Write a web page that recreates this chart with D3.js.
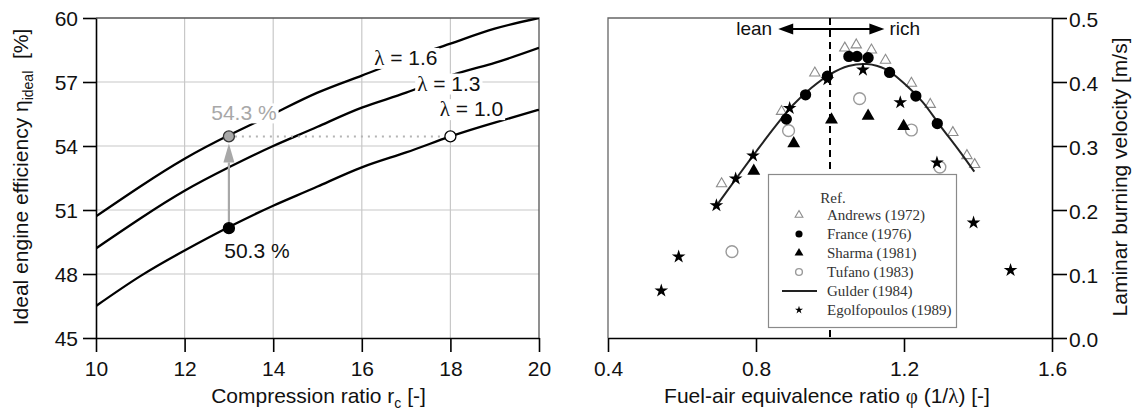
<!DOCTYPE html>
<html>
<head>
<meta charset="utf-8">
<script src="https://cdn.jsdelivr.net/npm/d3@7"></script>
<style>
  body { margin: 0; background: #fff; }
  svg { display: block; font-family: "Liberation Sans", Arial, sans-serif; }
</style>
</head>
<body>
<script>
// ---------- left panel data: ideal (Otto) efficiency vs compression ratio ----------
var compRatio   = [10, 11, 12, 13, 14, 15, 16, 17, 18, 19, 20];
var etaLambda10 = [46.5, 47.9, 49.1, 50.2, 51.2, 52.1, 53.0, 53.7, 54.45, 55.1, 55.7];
var etaLambda13 = [49.2, 50.6, 51.9, 53.0, 54.0, 54.9, 55.8, 56.5, 57.3, 57.9, 58.6];
var etaLambda16 = [50.7, 52.1, 53.4, 54.5, 55.5, 56.5, 57.3, 58.1, 58.8, 59.5, 60.0];
var lambdaNames = ["\u03bb = 1.0", "\u03bb = 1.3", "\u03bb = 1.6"];
var rcTicks  = [10, 12, 14, 16, 18, 20];
var etaTicks = [45, 48, 51, 54, 57, 60];
// highlighted operating points
var pointR   = [13, 13, 18];
var pointEta = [50.15, 54.45, 54.45];

// ---------- right panel data: laminar burning velocity vs equivalence ratio ----------
var andrewsPhi = [0.707, 0.869, 0.959, 1.040, 1.071, 1.112, 1.150, 1.220, 1.271, 1.332, 1.370, 1.391];
var andrewsSl  = [0.241, 0.354, 0.414, 0.453, 0.458, 0.450, 0.434, 0.398, 0.365, 0.321, 0.285, 0.271];
var francePhi  = [0.882, 0.934, 0.993, 1.051, 1.073, 1.103, 1.161, 1.232, 1.290];
var franceSl   = [0.342, 0.380, 0.409, 0.440, 0.440, 0.438, 0.415, 0.378, 0.335];
var sharmaPhi  = [0.794, 0.902, 1.004, 1.103, 1.199];
var sharmaSl   = [0.261, 0.304, 0.341, 0.347, 0.331];
var tufanoPhi  = [0.735, 0.888, 1.080, 1.220, 1.297];
var tufanoSl   = [0.135, 0.324, 0.374, 0.325, 0.267];
var gulderPhi  = [0.69, 0.75, 0.80, 0.85, 0.90, 0.95, 1.00, 1.05, 1.10, 1.15, 1.20, 1.25, 1.30, 1.35, 1.39];
var gulderSl   = [0.204, 0.252, 0.291, 0.329, 0.364, 0.391, 0.412, 0.425, 0.428, 0.420, 0.398, 0.369, 0.330, 0.292, 0.260];
var egolfPhi   = [0.544, 0.591, 0.693, 0.745, 0.792, 0.891, 0.993, 1.089, 1.190, 1.289, 1.388, 1.488];
var egolfSl    = [0.074, 0.127, 0.207, 0.249, 0.285, 0.359, 0.404, 0.419, 0.368, 0.274, 0.180, 0.106];
var refNames   = ["Andrews (1972)", "France (1976)", "Sharma (1981)", "Tufano (1983)", "Gulder (1984)", "Egolfopoulos (1989)"];
var phiTicks = [0.4, 0.8, 1.2, 1.6];
var slTicks  = [0, 0.1, 0.2, 0.3, 0.4, 0.5];

var W = 1136, H = 412;
var FS = 21;
var svg = d3.select("body").append("svg").attr("width", W).attr("height", H);

function zip(a, b) { return a.map(function(v, i) { return [v, b[i]]; }); }

function styleAxis(g) {
  g.selectAll("path, line").attr("stroke", "#000").attr("stroke-width", 1.6);
  g.selectAll("text").attr("font-size", FS).attr("font-family", "Liberation Sans, Arial, sans-serif").attr("fill", "#111");
}

// labels with a white box behind so the curve breaks under them
function boxedLabel(parent, x, y, parts, color, anchor) {
  var g = parent.append("g");
  var rect = g.append("rect").attr("fill", "#fff");
  var t = g.append("text").attr("x", x).attr("y", y).attr("font-size", FS)
    .attr("text-anchor", anchor || "start").attr("fill", color || "#111");
  parts.forEach(function(p) {
    t.append("tspan").attr("font-family", p.serif ? "Liberation Serif, serif" : null).text(p.s);
  });
  var bb = t.node().getBBox();
  rect.attr("x", bb.x - 2).attr("y", bb.y + 2).attr("width", bb.width + 4).attr("height", bb.height - 3);
  return g;
}

/////////////////////////////////////////////////////////
///////////////////// Left panel ////////////////////////
/////////////////////////////////////////////////////////
var xL = d3.scaleLinear().domain([10, 20]).range([96, 539]);
var yL = d3.scaleLinear().domain([45, 60]).range([338, 18]);

var left = svg.append("g");

// grid
left.selectAll(".vgrid").data(rcTicks.slice(1, -1)).enter().append("line")
  .attr("x1", function(d) { return xL(d); }).attr("x2", function(d) { return xL(d); })
  .attr("y1", yL(45)).attr("y2", yL(60))
  .attr("stroke", "#c8c8c8").attr("stroke-width", 1.2);
left.selectAll(".hgrid").data(etaTicks.slice(1, -1)).enter().append("line")
  .attr("x1", xL(10)).attr("x2", xL(20))
  .attr("y1", function(d) { return yL(d); }).attr("y2", function(d) { return yL(d); })
  .attr("stroke", "#c8c8c8").attr("stroke-width", 1.2);

// frame top / right
left.append("path")
  .attr("d", "M" + xL(10) + "," + yL(60) + "H" + xL(20) + "V" + yL(45))
  .attr("fill", "none").attr("stroke", "#555").attr("stroke-width", 1.3);

svg.append("clipPath").attr("id", "clipL").append("rect")
  .attr("x", xL(10)).attr("y", yL(60)).attr("width", xL(20) - xL(10)).attr("height", yL(45) - yL(60));

var effLine = d3.line()
  .x(function(d) { return xL(d[0]); })
  .y(function(d) { return yL(d[1]); })
  .curve(d3.curveNatural);

var effSeries = [etaLambda10, etaLambda13, etaLambda16];
left.append("g").attr("clip-path", "url(#clipL)")
  .selectAll("path").data(effSeries).enter().append("path")
  .attr("d", function(d) { return effLine(zip(compRatio, d)); })
  .attr("fill", "none").attr("stroke", "#000").attr("stroke-width", 2.3);

// lambda labels (positions in data units)
var lamLabelPos = [[17.76, 55.4], [17.25, 56.6], [16.28, 57.8]];
lambdaNames.forEach(function(name, i) {
  boxedLabel(left, xL(lamLabelPos[i][0]), yL(lamLabelPos[i][1]),
    [{s: "\u03bb", serif: true}, {s: name.slice(1)}]);
});

// dotted connection 54.3 % (lambda 1.6, rc 13) -> lambda 1.0 at rc 18
left.append("line")
  .attr("x1", xL(pointR[1]) + 6).attr("x2", xL(pointR[2]) - 6)
  .attr("y1", yL(pointEta[1])).attr("y2", yL(pointEta[2]))
  .attr("stroke", "#b4b4b4").attr("stroke-width", 2).attr("stroke-dasharray", "2,5");

// grey arrow from 50.3 % up to 54.3 %
var ax = xL(pointR[0]);
var tipY = yL(pointEta[1]) + 7, baseY = tipY + 19;
left.append("line").attr("x1", ax).attr("x2", ax).attr("y1", yL(pointEta[0]) - 5).attr("y2", baseY)
  .attr("stroke", "#a8a8a8").attr("stroke-width", 2.2);
left.append("path")
  .attr("d", "M" + ax + "," + tipY + "L" + (ax - 5.5) + "," + baseY + "L" + (ax + 5.5) + "," + baseY + "Z")
  .attr("fill", "#a8a8a8");

var ptStyle = [{fill: "#000", stroke: "#000"}, {fill: "#a8a8a8", stroke: "#333"}, {fill: "#fff", stroke: "#000"}];
left.selectAll(".pt").data(pointR).enter().append("circle")
  .attr("cx", function(d) { return xL(d); })
  .attr("cy", function(d, i) { return yL(pointEta[i]); })
  .attr("r", 5.5)
  .attr("fill", function(d, i) { return ptStyle[i].fill; })
  .attr("stroke", function(d, i) { return ptStyle[i].stroke; })
  .attr("stroke-width", 1.3);

boxedLabel(left, xL(pointR[1]) + 15, yL(pointEta[1]) - 16, [{s: "54.3 %"}], "#a8a8a8", "middle");
left.append("text").attr("x", xL(pointR[0]) + 28).attr("y", yL(pointEta[0]) + 30)
  .attr("text-anchor", "middle").attr("font-size", FS).attr("fill", "#111").text("50.3 %");

// axes
left.append("g").attr("transform", "translate(0," + yL(45) + ")")
  .call(d3.axisBottom(xL).tickValues(rcTicks).tickSize(14).tickSizeOuter(0).tickPadding(9))
  .call(styleAxis);
left.append("g").attr("transform", "translate(" + xL(10) + ",0)")
  .call(d3.axisLeft(yL).tickValues(etaTicks).tickSize(13).tickSizeOuter(0).tickPadding(5))
  .call(styleAxis)
  .selectAll("text").attr("dy", "0.38em");

// axis titles
var xtL = left.append("text").attr("x", (xL(10) + xL(20)) / 2 + 1).attr("y", 403)
  .attr("text-anchor", "middle").attr("font-size", FS).attr("fill", "#111");
xtL.append("tspan").text("Compression ratio r");
xtL.append("tspan").attr("font-size", 14).attr("dy", 5).text("c");
xtL.append("tspan").attr("dy", -5).text(" [-]");

var ytL = left.append("text").attr("transform", "translate(28,177) rotate(-90)")
  .attr("text-anchor", "middle").attr("font-size", FS).attr("fill", "#111");
ytL.append("tspan").text("Ideal engine efficiency \u03b7");
ytL.append("tspan").attr("font-size", 14).attr("dy", 5).text("ideal");
ytL.append("tspan").attr("dy", -5).text("\u00a0 [%]");

/////////////////////////////////////////////////////////
///////////////////// Right panel ///////////////////////
/////////////////////////////////////////////////////////
var xR = d3.scaleLinear().domain([0.4, 1.6]).range([608, 1052]);
var yR = d3.scaleLinear().domain([0, 0.5]).range([338, 18]);
var right = svg.append("g");

right.append("path")
  .attr("d", "M" + xR(0.4) + "," + yR(0) + "V" + yR(0.5) + "H" + xR(1.6))
  .attr("fill", "none").attr("stroke", "#666").attr("stroke-width", 1.3);

// stoichiometric line
right.append("line")
  .attr("x1", xR(1.0)).attr("x2", xR(1.0)).attr("y1", yR(0.5)).attr("y2", yR(0))
  .attr("stroke", "#000").attr("stroke-width", 2).attr("stroke-dasharray", "7,5");

// lean / rich arrow
var arrY = yR(0.483), arrL = xR(0.86), arrR = xR(1.147);
right.append("line").attr("x1", arrL + 10).attr("x2", arrR - 10).attr("y1", arrY).attr("y2", arrY)
  .attr("stroke", "#000").attr("stroke-width", 2);
right.append("path")
  .attr("d", "M" + arrL + "," + arrY + "l15,-5.5v11Z" + "M" + arrR + "," + arrY + "l-15,-5.5v11Z")
  .attr("fill", "#000");
right.append("text").attr("x", arrL - 6).attr("y", arrY + 6).attr("text-anchor", "end")
  .attr("font-size", 19).attr("fill", "#111").text("lean");
right.append("text").attr("x", arrR + 5).attr("y", arrY + 6)
  .attr("font-size", 19).attr("fill", "#111").text("rich");

var markers = {
  andrews: {sym: d3.symbolTriangle, size: 46, fill: "none", stroke: "#8c8c8c", sw: 1.1, lsize: 26},
  france:  {sym: d3.symbolCircle, size: 100, fill: "#000", stroke: "none", sw: 0, lsize: 40},
  sharma:  {sym: d3.symbolTriangle, size: 72, fill: "#000", stroke: "none", sw: 0, lsize: 34},
  tufano:  {sym: d3.symbolCircle, size: 110, fill: "none", stroke: "#9a9a9a", sw: 1.4, lsize: 36},
  egolf:   {sym: d3.symbolStar, size: 58, fill: "#000", stroke: "none", sw: 0, lsize: 20}
};

function drawSeries(key, phi, sl) {
  var m = markers[key];
  right.append("g").selectAll("path").data(zip(phi, sl)).enter().append("path")
    .attr("d", d3.symbol().type(m.sym).size(m.size))
    .attr("transform", function(d) { return "translate(" + xR(d[0]) + "," + yR(d[1]) + ")"; })
    .attr("fill", m.fill).attr("stroke", m.stroke).attr("stroke-width", m.sw);
}

drawSeries("andrews", andrewsPhi, andrewsSl);
drawSeries("tufano", tufanoPhi, tufanoSl);

var slLine = d3.line()
  .x(function(d) { return xR(d[0]); })
  .y(function(d) { return yR(d[1]); })
  .curve(d3.curveCatmullRom);
right.append("path").attr("d", slLine(zip(gulderPhi, gulderSl)))
  .attr("fill", "none").attr("stroke", "#222").attr("stroke-width", 2);

drawSeries("france", francePhi, franceSl);
drawSeries("sharma", sharmaPhi, sharmaSl);
drawSeries("egolf", egolfPhi, egolfSl);

// legend
var leg = right.append("g");
leg.append("rect").attr("x", 768.5).attr("y", 174.5).attr("width", 188).attr("height", 153)
  .attr("fill", "#fff").attr("stroke", "#8a8a8a").attr("stroke-width", 1.2);
leg.append("text").attr("x", 833).attr("y", 203).attr("text-anchor", "middle")
  .attr("font-family", "Liberation Serif, serif").attr("font-size", 15).attr("fill", "#333").text("Ref.");
var legKeys = ["andrews", "france", "sharma", "tufano", "gulder", "egolf"];
legKeys.forEach(function(k, i) {
  var cy = 215 + i * 19;
  if (k === "gulder") {
    leg.append("line").attr("x1", 782).attr("x2", 817).attr("y1", cy).attr("y2", cy)
      .attr("stroke", "#222").attr("stroke-width", 2);
  } else {
    var m = markers[k];
    leg.append("path").attr("d", d3.symbol().type(m.sym).size(m.lsize)())
      .attr("transform", "translate(799," + cy + ")")
      .attr("fill", m.fill).attr("stroke", m.stroke).attr("stroke-width", m.sw);
  }
  leg.append("text").attr("x", 827).attr("y", cy).attr("dy", "0.35em")
    .attr("font-family", "Liberation Serif, serif").attr("font-size", 15).attr("fill", "#333")
    .text(refNames[i]);
});

// axes
right.append("g").attr("transform", "translate(0," + yR(0) + ")")
  .call(d3.axisBottom(xR).tickValues(phiTicks).tickFormat(d3.format(".1f")).tickSize(14).tickSizeOuter(0).tickPadding(9))
  .call(styleAxis);
right.append("g").attr("transform", "translate(" + xR(1.6) + ",0)")
  .call(d3.axisRight(yR).tickValues(slTicks).tickFormat(d3.format(".1f")).tickSize(15).tickSizeOuter(0).tickPadding(2))
  .call(styleAxis)
  .selectAll("text").attr("dy", "0.42em");

var xtR = right.append("text").attr("x", 827).attr("y", 403)
  .attr("text-anchor", "middle").attr("font-size", FS).attr("fill", "#111");
xtR.append("tspan").text("Fuel-air equivalence ratio ");
xtR.append("tspan").attr("font-family", "Liberation Serif, serif").text("\u03c6");
xtR.append("tspan").text(" (1/");
xtR.append("tspan").attr("font-family", "Liberation Serif, serif").text("\u03bb");
xtR.append("tspan").text(") [-]");

right.append("text").attr("transform", "translate(1127,177) rotate(-90)")
  .attr("text-anchor", "middle").attr("font-size", FS).attr("fill", "#111")
  .text("Laminar burning velocity [m/s]");
</script>
</body>
</html>
